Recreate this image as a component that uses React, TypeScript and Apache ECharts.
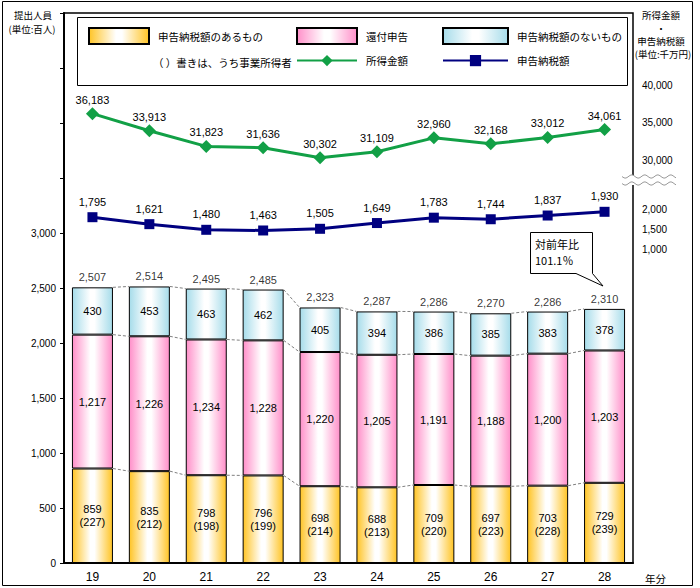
import React, { useEffect, useRef } from "react";
import * as echarts from "echarts";

const years = ["19", "20", "21", "22", "23", "24", "25", "26", "27", "28"];
const withTax = [859, 835, 798, 796, 698, 688, 709, 697, 703, 729];
const business = [227, 212, 198, 199, 214, 213, 220, 223, 228, 239];
const refund = [1217, 1226, 1234, 1228, 1220, 1205, 1191, 1188, 1200, 1203];
const noTax = [430, 453, 463, 462, 405, 394, 386, 385, 383, 378];
const totals = [2507, 2514, 2495, 2485, 2323, 2287, 2286, 2270, 2286, 2310];
const income = [36183, 33913, 31823, 31636, 30302, 31109, 32960, 32168, 33012, 34061];
const taxAmount = [1795, 1621, 1480, 1463, 1505, 1649, 1783, 1744, 1837, 1930];
const leftTickMaxLabel = 3000;
const taxTicks = [1000, 1500, 2000];
const incomeTicks = [30000, 35000, 40000];

const NUM_FONT = '"Liberation Sans", Arial, sans-serif';
const JP_FONT = '"Noto Sans CJK JP", sans-serif';
const fmt = (v: number) => v.toLocaleString("en-US");

const grad = (c: string) =>
  new echarts.graphic.LinearGradient(0, 0, 1, 0, [
    { offset: 0, color: c },
    { offset: 0.45, color: "#FFFFFF" },
    { offset: 0.55, color: "#FFFFFF" },
    { offset: 1, color: c },
  ]);

export default function App() {
  const ref = useRef<HTMLDivElement>(null);
  useEffect(() => {
    if (!ref.current) return;
    const chart = echarts.init(ref.current, null, { renderer: "svg" });
    const cum1 = withTax.slice();
    const cum2 = withTax.map((v, i) => v + refund[i]);
    const cum3 = cum2.map((v, i) => v + noTax[i]);
    const barW = 41;

    const wave = (y0: number) => {
      const pts: number[][] = [];
      for (let x = 622; x <= 676; x += 1) {
        pts.push([x, y0 + 1.6 * Math.sin(((x - 622) / 13) * 2 * Math.PI)]);
      }
      return pts;
    };

    const legendBase = {
      orient: "horizontal",
      padding: 0,
      selectedMode: false,
      textStyle: { fontSize: 10.5, fontFamily: JP_FONT, color: "#000", padding: [0, 0, 0, 4] },
    };

    const smallText = (text: string, x: number, y: number) => ({
      type: "text",
      z: 5,
      style: {
        text,
        x,
        y,
        font: `9.5px ${JP_FONT}`,
        fill: "#000",
        textAlign: "center",
        textVerticalAlign: "middle",
        lineHeight: 11,
      },
    });

    chart.setOption({
      animation: false,
      backgroundColor: "#fff",
      grid: {
        left: 64,
        top: 13,
        width: 569,
        height: 550,
        show: true,
        borderColor: "#000",
        borderWidth: 1.5,
        backgroundColor: "transparent",
      },
      legend: [
        { ...legendBase, left: 88, top: 27, itemWidth: 60, itemHeight: 16, icon: "rect", data: ["申告納税額のあるもの"] },
        { ...legendBase, left: 296, top: 27, itemWidth: 60, itemHeight: 16, icon: "rect", data: ["還付申告"] },
        { ...legendBase, left: 442, top: 27, itemWidth: 65, itemHeight: 16, icon: "rect", data: ["申告納税額のないもの"] },
        { ...legendBase, left: 296, top: 55, itemWidth: 60, itemHeight: 14, data: ["所得金額"] },
        { ...legendBase, left: 442, top: 55, itemWidth: 65, itemHeight: 14, data: ["申告納税額"] },
      ],
      xAxis: {
        type: "category",
        data: years,
        axisLine: { lineStyle: { color: "#000", width: 2 } },
        axisTick: { inside: true, length: 4, lineStyle: { color: "#000" } },
        axisLabel: { color: "#000", fontSize: 12, margin: 8, fontFamily: NUM_FONT },
      },
      yAxis: [
        {
          type: "value",
          min: 0,
          max: 5000,
          interval: 500,
          axisLine: { show: true, lineStyle: { color: "#000", width: 2 } },
          axisTick: { show: true, length: 4, lineStyle: { color: "#000" } },
          splitLine: { show: false },
          axisLabel: {
            color: "#000",
            fontSize: 10,
            fontFamily: NUM_FONT,
            margin: 8,
            formatter: (v: number) => (v <= leftTickMaxLabel ? fmt(v) : ""),
          },
        },
        {
          type: "value",
          position: "right",
          min: -6850,
          max: 6900,
          axisLine: { show: false },
          axisTick: { show: false },
          splitLine: { show: false },
          axisLabel: {
            customValues: taxTicks,
            formatter: (v: number) => fmt(v),
            color: "#000",
            fontSize: 10,
            fontFamily: NUM_FONT,
            margin: 9,
          },
        },
        {
          type: "value",
          position: "right",
          min: -23700,
          max: 49600,
          axisLine: { show: false },
          axisTick: { show: false },
          splitLine: { show: false },
          axisLabel: {
            customValues: incomeTicks,
            formatter: (v: number) => fmt(v),
            color: "#000",
            fontSize: 10,
            fontFamily: NUM_FONT,
            margin: 9,
          },
        },
      ],
      series: [
        {
          name: "申告納税額のあるもの",
          type: "bar",
          stack: "a",
          barWidth: barW,
          data: withTax,
          itemStyle: { color: grad("#FFC425"), borderColor: "#000", borderWidth: 1 },
          label: {
            show: true,
            position: "inside",
            color: "#000",
            fontSize: 11,
            lineHeight: 13,
            fontFamily: NUM_FONT,
            formatter: (p: any) => `${fmt(withTax[p.dataIndex])}\n(${business[p.dataIndex]})`,
          },
        },
        {
          name: "還付申告",
          type: "bar",
          stack: "a",
          barWidth: barW,
          data: refund,
          itemStyle: { color: grad("#FF8FC9"), borderColor: "#000", borderWidth: 1 },
          label: {
            show: true,
            position: "inside",
            color: "#000",
            fontSize: 11,
            fontFamily: NUM_FONT,
            formatter: (p: any) => fmt(p.value),
          },
        },
        {
          name: "申告納税額のないもの",
          type: "bar",
          stack: "a",
          barWidth: barW,
          data: noTax,
          itemStyle: { color: grad("#A6DCEA"), borderColor: "#000", borderWidth: 1 },
          label: {
            show: true,
            position: "inside",
            color: "#000",
            fontSize: 11,
            fontFamily: NUM_FONT,
            formatter: (p: any) => fmt(p.value),
          },
        },
        {
          name: "合計",
          type: "scatter",
          data: totals.map((t, i) => [i, cum3[i], t]),
          symbolSize: 1,
          itemStyle: { color: "rgba(0,0,0,0)" },
          silent: true,
          label: {
            show: true,
            position: "top",
            distance: 4,
            color: "#000",
            fontSize: 11,
            fontFamily: NUM_FONT,
            formatter: (p: any) => fmt(totals[p.dataIndex]),
          },
        },
        {
          name: "connectors",
          type: "custom",
          silent: true,
          data: years.slice(0, -1).map((_, i) => [i, 0]),
          encode: { x: 0, y: 1 },
          renderItem: (_params: any, api: any) => {
            const i = api.value(0);
            const children: any[] = [];
            [cum1, cum2, cum3].forEach((lv) => {
              const a = api.coord([i, lv[i]]);
              const b = api.coord([i + 1, lv[i + 1]]);
              children.push({
                type: "line",
                shape: { x1: a[0] + barW / 2, y1: a[1], x2: b[0] - barW / 2, y2: b[1] },
                style: { stroke: "#808080", lineWidth: 1, lineDash: [3, 2] },
              });
            });
            return { type: "group", children };
          },
        },
        {
          name: "所得金額",
          type: "line",
          yAxisIndex: 2,
          data: income,
          symbol: "diamond",
          symbolSize: 13,
          lineStyle: { color: "#12A046", width: 3 },
          itemStyle: { color: "#12A046" },
          label: {
            show: true,
            position: "top",
            distance: 2,
            color: "#000",
            fontSize: 11,
            fontFamily: NUM_FONT,
            formatter: (p: any) => fmt(p.value),
          },
        },
        {
          name: "申告納税額",
          type: "line",
          yAxisIndex: 1,
          data: taxAmount,
          symbol: "rect",
          symbolSize: 10,
          lineStyle: { color: "#000080", width: 3 },
          itemStyle: { color: "#000080" },
          label: {
            show: true,
            position: "top",
            distance: 5,
            color: "#000",
            fontSize: 11,
            fontFamily: NUM_FONT,
            formatter: (p: any) => fmt(p.value),
          },
        },
      ],
      graphic: [
        {
          type: "rect",
          z: -10,
          shape: { x: 2.5, y: 1.5, width: 690, height: 584 },
          style: { fill: "none", stroke: "#000", lineWidth: 1 },
          silent: true,
        },
        {
          type: "rect",
          z: 1,
          shape: { x: 77.5, y: 17.5, width: 550, height: 68 },
          style: { fill: "#fff", stroke: "#000", lineWidth: 1 },
          silent: true,
        },
        {
          type: "text",
          z: 5,
          style: { text: "（ ）書きは、うち事業所得者", x: 153, y: 62, font: `10.5px ${JP_FONT}`, fill: "#000", textVerticalAlign: "middle" },
        },
        smallText("提出人員", 33, 15),
        smallText("(単位:百人)", 32, 29),
        smallText("所得金額", 661, 15),
        smallText("・", 661, 28),
        smallText("申告納税額", 661, 41),
        smallText("(単位:千万円)", 663, 54),
        {
          type: "text",
          z: 5,
          style: { text: "年分", x: 645, y: 578, font: `10.5px ${JP_FONT}`, fill: "#000", textVerticalAlign: "middle" },
        },
        {
          type: "rect",
          z: 100,
          shape: { x: 621, y: 175, width: 56, height: 10 },
          style: { fill: "#fff", stroke: "none" },
          silent: true,
        },
        {
          type: "polyline",
          z: 101,
          shape: { points: wave(176.5) },
          style: { fill: "none", stroke: "#9a9a9a", lineWidth: 1 },
          silent: true,
        },
        {
          type: "polyline",
          z: 101,
          shape: { points: wave(183.5) },
          style: { fill: "none", stroke: "#9a9a9a", lineWidth: 1 },
          silent: true,
        },
        {
          type: "polygon",
          z: 50,
          shape: {
            points: [
              [530.5, 232.5],
              [592.5, 232.5],
              [592.5, 273.5],
              [603, 286],
              [576, 273.5],
              [530.5, 273.5],
            ],
          },
          style: { fill: "#fff", stroke: "#000", lineWidth: 1 },
          silent: true,
        },
        {
          type: "text",
          z: 51,
          style: { text: "対前年比", x: 535, y: 244, font: `11px ${JP_FONT}`, fill: "#000", textVerticalAlign: "middle" },
        },
        {
          type: "text",
          z: 51,
          style: { text: "101.1％", x: 535, y: 260, font: `11px ${JP_FONT}`, fill: "#000", textVerticalAlign: "middle" },
        },
      ],
    });
    return () => chart.dispose();
  }, []);
  return (
    <div
      ref={ref}
      style={{ position: "fixed", left: 0, top: 0, width: 700, height: 588 }}
    />
  );
}
